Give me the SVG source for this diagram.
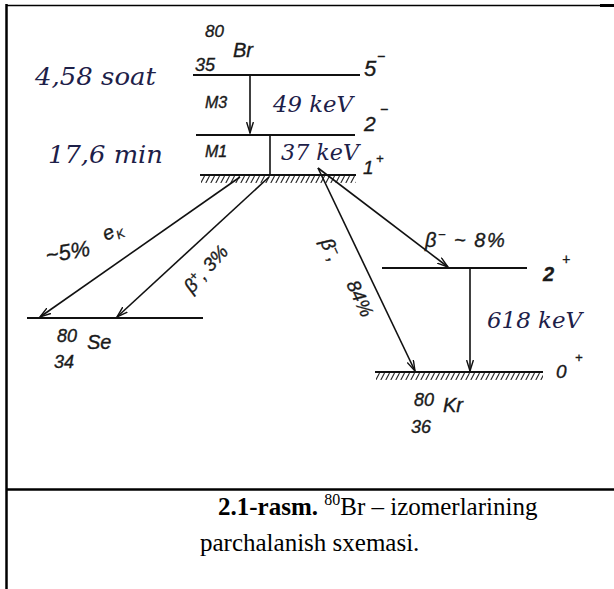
<svg xmlns="http://www.w3.org/2000/svg" width="614" height="589" viewBox="0 0 614 589">
  <defs>
    <marker id="ah" viewBox="0 0 12 8" refX="11" refY="4" markerWidth="12" markerHeight="8" orient="auto" markerUnits="userSpaceOnUse">
      <path d="M0,0.6 L11,4 L0,7.4" fill="none" stroke="#111" stroke-width="1.4"/>
    </marker>
    <pattern id="hatchA" patternUnits="userSpaceOnUse" x="0" y="176" width="5" height="7">
      <path d="M4.5,0 L0.8,7" stroke="#222" stroke-width="1.1"/>
    </pattern>
    <pattern id="hatchB" patternUnits="userSpaceOnUse" x="0" y="373" width="5" height="7">
      <path d="M4.5,0 L0.8,7" stroke="#222" stroke-width="1.1"/>
    </pattern>
  </defs>
  <style>
    .lvl { stroke:#111; stroke-width:2; fill:none; }
    .tr { stroke:#111; stroke-width:1.6; fill:none; }
    .hw { font-family:"Liberation Sans", Arial, sans-serif; font-style:italic; fill:#1a1a1a; stroke:#1a1a1a; stroke-width:0.35; }
    .bl { font-family:"DejaVu Serif", serif; font-style:italic; fill:#1d2048; }
    .cap { font-family:"Liberation Serif", "Times New Roman", serif; font-size:25px; fill:#000; }
    .frame { stroke:#000; fill:none; }
  </style>
  <rect width="614" height="589" fill="#fff"/>

  <g id="frame">
    <line class="frame" x1="6" y1="5.5" x2="614" y2="5.5" stroke-width="1.5"/>
    <line class="frame" x1="600" y1="5.5" x2="614" y2="5.5" stroke-width="3"/>
    <line class="frame" x1="6.5" y1="4" x2="6.5" y2="589" stroke-width="2.5"/>
    <line class="frame" x1="6" y1="489.5" x2="614" y2="489.5" stroke-width="2.5"/>
  </g>

  <g id="br-5minus">
    <line class="lvl" x1="193" y1="75" x2="360" y2="75"/>
    <text class="hw" x="205" y="37" font-size="17">80</text>
    <text class="hw" x="233" y="57" font-size="20">Br</text>
    <text class="hw" x="195" y="71" font-size="18">35</text>
    <text class="hw" x="364" y="76" font-size="22">5</text>
    <text class="hw" x="377" y="61" font-size="14">−</text>
    <text class="bl" x="35" y="85" font-size="25" textLength="121" lengthAdjust="spacingAndGlyphs">4,58 soat</text>
  </g>

  <g id="br-2minus">
    <line class="lvl" x1="196" y1="135" x2="355" y2="135"/>
    <text class="hw" x="364" y="131" font-size="21">2</text>
    <text class="hw" x="380" y="114" font-size="14">−</text>
    <text class="hw" x="205" y="108" font-size="16">M3</text>
    <text class="bl" x="273" y="112" font-size="23" textLength="80" lengthAdjust="spacingAndGlyphs">49 keV</text>
  </g>

  <g id="br-1plus">
    <rect x="201" y="176" width="155" height="7" fill="url(#hatchA)"/>
    <line class="lvl" x1="200" y1="175" x2="356" y2="175"/>
    <text class="hw" x="363" y="174" font-size="19">1</text>
    <text class="hw" x="376" y="163" font-size="13">+</text>
    <text class="hw" x="205" y="157" font-size="16">M1</text>
    <text class="bl" x="281" y="160" font-size="23" textLength="78" lengthAdjust="spacingAndGlyphs">37 keV</text>
    <text class="bl" x="48" y="163" font-size="25" textLength="115" lengthAdjust="spacingAndGlyphs">17,6 min</text>
  </g>

  <g id="se-ground">
    <line class="lvl" x1="27" y1="318" x2="203" y2="318"/>
    <text class="hw" x="57" y="342" font-size="18">80</text>
    <text class="hw" x="87" y="349" font-size="20">Se</text>
    <text class="hw" x="54" y="368" font-size="18">34</text>
  </g>

  <g id="kr-2plus">
    <line class="lvl" x1="382" y1="268" x2="527" y2="268"/>
    <text class="hw" x="543" y="281" font-size="20" font-weight="bold">2</text>
    <text class="hw" x="562" y="264" font-size="14">+</text>
  </g>

  <g id="kr-0plus">
    <rect x="376" y="373" width="167" height="7" fill="url(#hatchB)"/>
    <line class="lvl" x1="375" y1="372" x2="543" y2="372"/>
    <text class="hw" x="556" y="378" font-size="19">0</text>
    <text class="hw" x="575" y="362" font-size="13">+</text>
    <text class="hw" x="414" y="406" font-size="18">80</text>
    <text class="hw" x="443" y="412" font-size="20">Kr</text>
    <text class="hw" x="411" y="433" font-size="18">36</text>
  </g>

  <g id="connectors">
    <line class="tr" x1="250" y1="76" x2="250" y2="133" marker-end="url(#ah)"/>
    <line class="tr" x1="270" y1="135" x2="270" y2="175"/>
    <line class="tr" x1="240" y1="177" x2="40" y2="317" marker-end="url(#ah)"/>
    <line class="tr" x1="269" y1="177" x2="117" y2="317" stroke-width="2.6" marker-end="url(#ah)"/>
    <line class="tr" x1="318" y1="168" x2="415" y2="371" marker-end="url(#ah)"/>
    <line class="tr" x1="318" y1="168" x2="448" y2="267" marker-end="url(#ah)"/>
    <line class="tr" x1="470" y1="268" x2="470" y2="371" marker-end="url(#ah)"/>
  </g>

  <g id="labels">
    <text class="hw" font-size="22" transform="translate(47,263) rotate(-10)">~5%</text>
    <g transform="translate(106,241) rotate(-25)">
      <text class="hw" x="0" y="0" font-size="20">e</text>
      <text class="hw" x="12" y="4" font-size="12">K</text>
    </g>
    <text class="hw" font-size="19" transform="translate(192,294) rotate(-48)">β<tspan font-size="12" dy="-7">+</tspan><tspan dy="7">, 3%</tspan></text>
    <text class="hw" x="425" y="247" font-size="20" letter-spacing="1.5">β<tspan font-size="13" dy="-8">−</tspan><tspan dy="8"> ~ 8%</tspan></text>
    <text class="hw" font-size="19" transform="translate(320,242) rotate(65)">β<tspan font-size="12" dy="-7">−</tspan><tspan dy="7">,</tspan></text>
    <text class="hw" font-size="19" transform="translate(346,284) rotate(65)">84%</text>
    <text class="bl" x="487" y="328" font-size="23" textLength="95" lengthAdjust="spacingAndGlyphs">618 keV</text>
  </g>

  <g id="caption">
    <text class="cap" x="218" y="515"><tspan font-weight="bold">2.1-rasm.</tspan> <tspan font-size="16" dy="-10">80</tspan><tspan dy="10">Br – izomerlarining</tspan></text>
    <text class="cap" x="200" y="551">parchalanish sxemasi.</text>
  </g>
</svg>
